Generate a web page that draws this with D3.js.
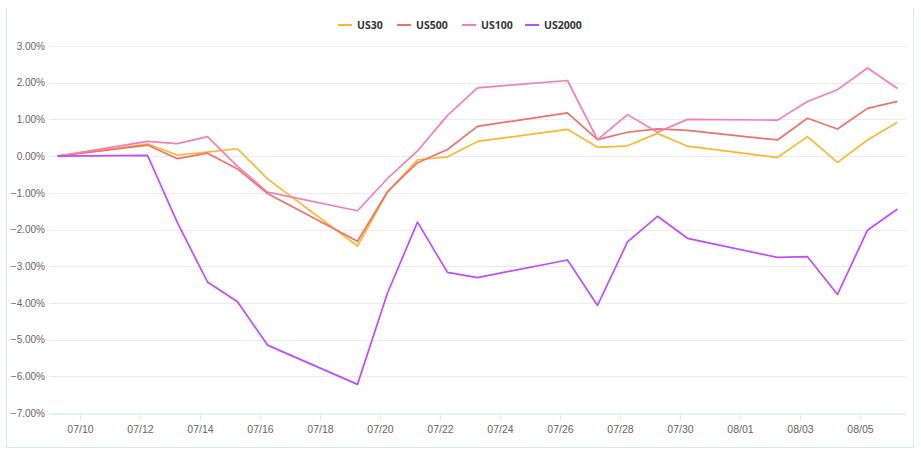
<!DOCTYPE html>
<html><head><meta charset="utf-8">
<script src="https://cdn.jsdelivr.net/npm/d3@7/dist/d3.min.js"></script>
<style>
html,body{margin:0;padding:0;background:#fff;}
svg{display:block;font-family:"Open Sans","Noto Sans",sans-serif;}
</style></head>
<body>
<svg id="chart" width="921" height="454"></svg>
<script>
const dates = ["2021-07-09","2021-07-12","2021-07-13","2021-07-14","2021-07-15","2021-07-16",
  "2021-07-19","2021-07-20","2021-07-21","2021-07-22","2021-07-23",
  "2021-07-26","2021-07-27","2021-07-28","2021-07-29","2021-07-30",
  "2021-08-02","2021-08-03","2021-08-04","2021-08-05","2021-08-06"];
const us30   = [0, 0.33, 0.03, 0.11, 0.20, -0.62, -2.45, -0.98, -0.10, -0.02, 0.40, 0.73, 0.24, 0.28, 0.62, 0.27, -0.04, 0.53, -0.17, 0.44, 0.92];
const us500  = [0, 0.30, -0.07, 0.08, -0.35, -1.02, -2.32, -0.97, -0.18, 0.18, 0.81, 1.18, 0.45, 0.65, 0.74, 0.70, 0.44, 1.03, 0.74, 1.30, 1.49];
const us100  = [0, 0.40, 0.34, 0.53, -0.28, -0.98, -1.49, -0.61, 0.14, 1.11, 1.86, 2.06, 0.45, 1.13, 0.65, 1.00, 0.98, 1.49, 1.81, 2.40, 1.84];
const us2000 = [0, 0.02, -1.82, -3.43, -3.97, -5.15, -6.22, -3.73, -1.80, -3.17, -3.31, -2.83, -4.07, -2.34, -1.64, -2.24, -2.76, -2.74, -3.77, -2.02, -1.44];
const seriesNames = ["US30","US500","US100","US2000"];
const seriesColors = ["#F9B92F","#EF716B","#F27FB8","#C14CFB"];
const yTicks = [3,2,1,0,-1,-2,-3,-4,-5,-6,-7];
const xTickDates = ["2021-07-10","2021-07-12","2021-07-14","2021-07-16","2021-07-18","2021-07-20","2021-07-22",
  "2021-07-24","2021-07-26","2021-07-28","2021-07-30","2021-08-01","2021-08-03","2021-08-05"];

const svg = d3.select("#chart");
const parse = s => new Date(s + "T00:00:00");
const withHour = s => new Date(s + "T06:00:00");

// frame
const frame = svg.append("g");
frame.append("path").attr("d","M6.5,8 V447.5 H913.5 V8").attr("fill","none").attr("stroke","#d9e8e8").attr("stroke-width",1);

const x = d3.scaleTime()
  .domain([parse("2021-07-09"), new Date("2021-08-06T12:00:00")])
  .range([50, 905]);
const y = d3.scaleLinear().domain([-7, 3]).range([413, 46]);

// grid
svg.append("g").selectAll("line").data(yTicks.filter(t => t !== -7)).join("line")
  .attr("x1", 49).attr("x2", 906)
  .attr("y1", d => Math.round(y(d)) + 0.5).attr("y2", d => Math.round(y(d)) + 0.5)
  .attr("stroke", "#ececec").attr("stroke-width", 1);

// y axis labels
const yAxis = d3.axisLeft(y).tickValues(yTicks).tickSize(0).tickPadding(0)
  .tickFormat(d => d3.format(".2f")(d) + "%");
const gy = svg.append("g").attr("transform", "translate(45,0)").call(yAxis);
gy.select(".domain").remove();
gy.selectAll("text").attr("fill", "#666").style("font-size", "10px");

// x axis
const xAxis = d3.axisBottom(x).tickValues(xTickDates.map(parse)).tickSize(7).tickPadding(5)
  .tickFormat(d3.timeFormat("%m/%d"));
const gx = svg.append("g").attr("transform", "translate(0,413.5)").call(xAxis);
gx.select(".domain").attr("stroke", "#d0dcf0").attr("d", "M49,0.5H906");
gx.selectAll(".tick line").attr("stroke", "#e2e9f6");
gx.selectAll("text").attr("fill", "#666").style("font-size", "10.5px");

// lines
const allSeries = [us30, us500, us100, us2000];
const line = d3.line().x((d, i) => x(withHour(dates[i]))).y(d => y(d));
svg.append("g").selectAll("path").data(allSeries).join("path")
  .attr("d", d => line(d))
  .attr("fill", "none")
  .attr("stroke", (d, i) => seriesColors[i])
  .attr("stroke-width", 1.7)
  .attr("stroke-linejoin", "round");

// legend
const legendX = [338, 397, 462, 525];
const lg = svg.append("g");
seriesNames.forEach((n, i) => {
  const g = lg.append("g").attr("transform", `translate(${legendX[i]},25)`);
  g.append("line").attr("x1", 0).attr("x2", 14).attr("y1", 0).attr("y2", 0)
    .attr("stroke", seriesColors[i]).attr("stroke-width", 2);
  g.append("text").attr("x", 19).attr("y", 0).attr("dy", "0.35em")
    .attr("fill", "#333").style("font-size", "10.5px").style("font-weight", "bold").text(n);
});
</script>
</body></html>
